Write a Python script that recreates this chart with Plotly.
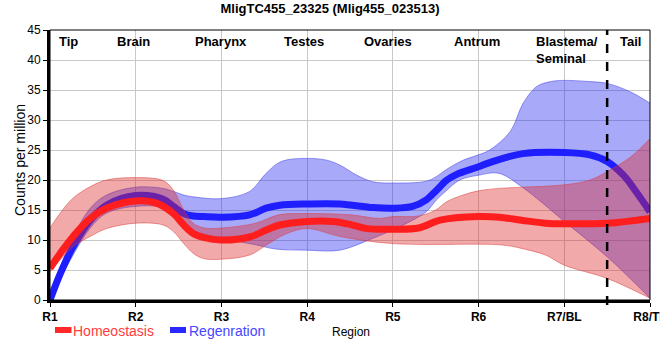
import plotly.graph_objects as go

# ---- data (x in region-index units: 0=R1 ... 7=R8/TL) ----
tick_labels = ["R1", "R2", "R3", "R4", "R5", "R6", "R7/BL", "R8/TL"]
region_names = ["Tip", "Brain", "Pharynx", "Testes", "Ovaries", "Antrum", "Blastema/<br>Seminal", "Tail"]
region_pos = [0.22, 0.97, 1.99, 2.96, 3.94, 4.98, 5.65, 6.77]

homeo_x = [0, 0.12, 0.27, 0.47, 0.66, 1.0, 1.25, 1.44, 1.56, 1.67, 1.8, 2.0, 2.33, 2.53, 2.68, 3.0, 3.3, 3.5, 3.7, 4.0, 4.3, 4.55, 5.0, 5.24, 5.5, 5.78, 6.0, 6.5, 7.0]
homeo_y = [5.3, 7.8, 10.6, 13.6, 15.3, 16.5, 16.1, 14.4, 12.5, 11.1, 10.4, 10.0, 10.5, 11.7, 12.5, 13.1, 13.1, 12.6, 11.9, 11.8, 12.0, 13.3, 13.9, 13.8, 13.3, 12.8, 12.7, 12.8, 13.6]

homeo_up_x = [0, 0.12, 0.27, 0.47, 0.66, 1.0, 1.32, 1.44, 1.56, 1.67, 1.8, 2.0, 2.4, 2.67, 3.0, 3.5, 3.85, 4.0, 4.3, 4.5, 4.63, 4.82, 5.0, 5.24, 5.5, 6.0, 6.3, 6.5, 6.78, 7.0]
homeo_up_y = [12.0, 14.5, 17.0, 18.9, 20.0, 20.4, 19.9, 18.3, 15.0, 12.8, 12.0, 12.0, 12.8, 14.2, 14.4, 14.2, 13.6, 13.9, 14.0, 15.0, 16.4, 17.5, 18.2, 18.6, 18.8, 19.2, 20.0, 21.4, 23.9, 26.9]

homeo_lo_x = [0, 0.12, 0.27, 0.47, 0.66, 1.0, 1.32, 1.44, 1.56, 1.67, 1.79, 2.0, 2.33, 2.53, 2.75, 3.0, 3.38, 4.0, 5.0, 5.24, 5.37, 5.5, 5.78, 6.0, 6.5, 7.0]
homeo_lo_y = [4.7, 6.7, 8.9, 10.6, 11.9, 12.8, 12.5, 11.4, 9.4, 7.8, 6.9, 6.8, 7.5, 9.2, 11.0, 11.9, 10.6, 9.4, 9.3, 9.2, 9.0, 8.6, 7.5, 5.8, 3.6, 0.3]

regen_x = [0, 0.12, 0.27, 0.47, 0.66, 1.0, 1.32, 1.44, 1.56, 1.67, 1.79, 2.0, 2.33, 2.52, 2.68, 3.0, 3.38, 3.77, 4.0, 4.23, 4.39, 4.51, 4.63, 4.74, 5.0, 5.13, 5.52, 6.0, 6.3, 6.5, 6.69, 6.85, 7.0]
regen_y = [0.0, 4.4, 8.9, 13.3, 15.8, 17.4, 16.8, 15.6, 14.4, 14.0, 13.9, 13.8, 14.2, 15.3, 15.8, 16.0, 16.0, 15.4, 15.3, 15.6, 16.7, 18.3, 20.0, 20.9, 22.2, 22.9, 24.4, 24.6, 24.2, 23.1, 20.8, 17.8, 14.7]

regen_up_x = [0, 0.12, 0.27, 0.47, 0.66, 1.0, 1.32, 1.44, 1.56, 1.67, 2.0, 2.33, 2.52, 2.7, 3.0, 3.23, 3.38, 3.58, 3.77, 4.0, 4.39, 4.51, 4.63, 4.82, 5.0, 5.13, 5.37, 5.52, 5.68, 5.84, 6.0, 6.3, 6.5, 6.77, 7.0]
regen_up_y = [0.5, 5.5, 10.5, 15.3, 17.5, 18.8, 18.6, 18.1, 17.5, 17.2, 16.9, 18.1, 21.1, 23.1, 23.6, 23.3, 22.5, 20.8, 19.7, 19.5, 19.8, 20.6, 21.8, 23.3, 24.2, 25.0, 28.1, 32.8, 35.6, 36.4, 36.6, 36.4, 36.1, 34.7, 32.8]

regen_lo_x = [0, 0.12, 0.27, 0.47, 0.66, 1.0, 1.32, 1.52, 1.63, 2.0, 2.4, 2.63, 3.0, 3.38, 3.77, 4.0, 4.23, 4.39, 4.51, 4.63, 4.78, 5.0, 5.24, 5.52, 6.0, 6.5, 7.0]
regen_lo_y = [0.0, 3.5, 7.5, 12.0, 14.5, 15.6, 15.3, 12.8, 11.7, 10.3, 9.2, 8.5, 8.3, 8.3, 10.3, 11.7, 13.3, 14.7, 16.7, 18.3, 20.0, 20.8, 21.1, 18.7, 13.1, 7.2, 0.3]

RED_LINE = "rgb(255,30,30)"
BLUE_LINE = "rgb(30,30,255)"
RED_FILL = "rgba(220,40,40,0.4)"
BLUE_FILL = "rgba(40,40,240,0.4)"

W, H = 660, 360
ML, MR, MT, MB = 50, 10, 30, 60
PW, PH = W - ML - MR, H - MT - MB


def px_x(page_x):
    return (page_x - ML) / PW


def px_y(page_y):
    return (H - MB - page_y) / PH


fig = go.Figure()

# Regeneration band + line
fig.add_trace(go.Scatter(x=regen_lo_x, y=regen_lo_y, mode="lines", line=dict(color="rgba(60,60,230,0.5)", width=1, shape="spline"), showlegend=False, hoverinfo="skip"))
fig.add_trace(go.Scatter(x=regen_up_x, y=regen_up_y, mode="lines", fill="tonexty", fillcolor=BLUE_FILL, line=dict(color="rgba(60,60,230,0.5)", width=1, shape="spline"), showlegend=False, hoverinfo="skip"))
fig.add_trace(go.Scatter(x=regen_x, y=regen_y, mode="lines", name="Regenration", line=dict(color=BLUE_LINE, width=7, shape="spline"), showlegend=False))

# Homeostasis band + line
fig.add_trace(go.Scatter(x=homeo_lo_x, y=homeo_lo_y, mode="lines", line=dict(color="rgba(220,60,60,0.5)", width=1, shape="spline"), showlegend=False, hoverinfo="skip"))
fig.add_trace(go.Scatter(x=homeo_up_x, y=homeo_up_y, mode="lines", fill="tonexty", fillcolor=RED_FILL, line=dict(color="rgba(220,60,60,0.5)", width=1, shape="spline"), showlegend=False, hoverinfo="skip"))
fig.add_trace(go.Scatter(x=homeo_x, y=homeo_y, mode="lines", name="Homeostasis", line=dict(color=RED_LINE, width=7, shape="spline"), showlegend=False))

font_fam = "Liberation Sans, Arial, sans-serif"

annotations = []
for name, pos in zip(region_names, region_pos):
    left = name.startswith("Blastema")
    annotations.append(dict(x=pos, y=1, xref="x", yref="paper", text="<b>" + name + "</b>",
                            showarrow=False, xanchor="left" if left else "center", align="left",
                            yanchor="top", yshift=-2, font=dict(size=13, color="black", family=font_fam)))

# axis titles
annotations.append(dict(x=px_x(20), y=px_y(160), xref="paper", yref="paper", text="Counts per million", textangle=-90,
                        showarrow=False, xanchor="center", yanchor="middle", font=dict(size=14, color="black", family=font_fam)))
annotations.append(dict(x=px_x(350.5), y=px_y(332), xref="paper", yref="paper", text="Region",
                        showarrow=False, xanchor="center", yanchor="middle", borderpad=0, font=dict(size=12, color="black", family=font_fam)))
# legend
annotations.append(dict(x=px_x(73), y=px_y(331), xref="paper", yref="paper", text="Homeostasis",
                        showarrow=False, xanchor="left", yanchor="middle", xshift=-1, borderpad=0, font=dict(size=14, color="rgb(255,60,60)", family=font_fam)))
annotations.append(dict(x=px_x(189), y=px_y(331), xref="paper", yref="paper", text="Regenration",
                        showarrow=False, xanchor="left", yanchor="middle", xshift=-1, borderpad=0, font=dict(size=14, color="rgb(70,70,255)", family=font_fam)))

shapes = [
    dict(type="line", xref="x", yref="paper", x0=6.5, x1=6.5, y0=px_y(305), y1=1,
         line=dict(color="black", width=2.5, dash="dash")),
    dict(type="rect", xref="paper", yref="paper", x0=0, x1=1, y0=0, y1=1, line=dict(color="black", width=1)),
    dict(type="line", xref="paper", yref="paper", x0=px_x(55), x1=px_x(71.5), y0=px_y(330), y1=px_y(330),
         line=dict(color="rgb(255,40,40)", width=6)),
    dict(type="line", xref="paper", yref="paper", x0=px_x(170), x1=px_x(186), y0=px_y(330), y1=px_y(330),
         line=dict(color="rgb(40,40,255)", width=6)),
]

fig.update_layout(
    width=W, height=H,
    margin=dict(l=ML, r=MR, t=MT, b=MB, autoexpand=False),
    paper_bgcolor="white", plot_bgcolor="white",
    title=dict(text="<b>MligTC455_23325 (Mlig455_023513)</b>", x=330 / W, xanchor="center",
               y=1 - 8.5 / H, yanchor="middle",
               font=dict(size=13, color="black", family=font_fam)),
    font=dict(family=font_fam, color="black"),
    showlegend=False,
    annotations=annotations,
    shapes=shapes,
    xaxis=dict(range=[0, 7], tickmode="array", tickvals=list(range(8)), ticktext=["<b>" + t + "</b>" for t in tick_labels],
               automargin=False, ticklabeloverflow="allow",
               showgrid=True, gridcolor="rgb(200,200,200)", gridwidth=1, zeroline=False,
               showline=True, linecolor="black", linewidth=3, ticks="outside", ticklen=4, tickcolor="black",
               tickfont=dict(size=12, color="black", family=font_fam)),
    yaxis=dict(range=[0, 45], tickmode="array", tickvals=list(range(0, 46, 5)),
               automargin=False,
               showgrid=True, gridcolor="rgb(200,200,200)", gridwidth=1, zeroline=False,
               showline=True, linecolor="black", linewidth=3, ticks="outside", ticklen=4, tickcolor="black",
               tickfont=dict(size=12, color="black", family=font_fam)),
)

# remove the browser's default 8px page margin so the 660x360 figure fills the window exactly
fig.write_html("out.html", config={"displayModeBar": False},
               post_script="document.body.style.margin='0';document.body.style.overflow='hidden';")
